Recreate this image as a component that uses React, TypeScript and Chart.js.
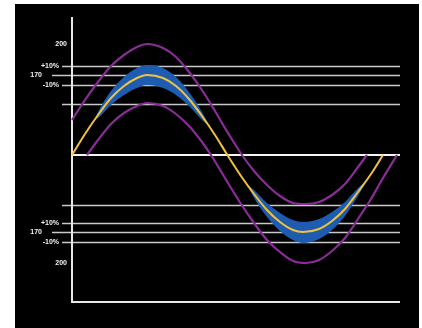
import React, { useEffect, useRef } from "react";
import { Chart, registerables } from "chart.js";

Chart.register(...registerables);

// Centre (yellow) curve: x position along the axis, value above/below the midline
const yellowX = [0, 13, 26, 39, 52, 65, 75, 91, 104, 117, 130, 143, 156, 169, 182, 195, 208, 221, 231, 247, 260, 273, 286, 299, 311];
const yellowY = [0, 21, 40, 57, 69, 77, 80, 77, 69, 56, 39, 20, -1, -21, -39, -55, -67, -75, -77, -74, -66, -54, -37, -19, 0];

// Upper purple curve
const upperX = [0, 13, 26, 39, 52, 65, 75, 91, 104, 117, 130, 143, 156, 170, 182, 195, 208, 221, 234, 247, 260, 273, 286, 295];
const upperY = [35, 55, 73, 89, 100, 108, 111, 107, 98, 83, 65, 44, 22, 0, -16, -30, -41, -48, -49, -47, -40, -29, -12, 0];

// Lower purple curve
const lowerX = [15, 26, 39, 52, 65, 75, 91, 104, 117, 130, 139, 156, 169, 182, 195, 208, 221, 234, 247, 260, 273, 286, 299, 311, 325];
const lowerY = [0, 15, 31, 42, 49, 52, 49, 41, 29, 13, 0, -28, -49, -68, -85, -97, -106, -108, -105, -96, -83, -64, -44, -23, 0];

// Blue tolerance band, upper hump
const bandTopX = [23, 26, 39, 52, 65, 75, 91, 104, 117, 130, 138];
const bandTopHigh = [36, 43, 64, 78, 87, 90, 87, 78, 63, 43, 28];
const bandTopLow = [36, 37, 50, 60, 67, 70, 67, 60, 49, 35, 28];

// Blue tolerance band, lower hump
const bandBotX = [175, 182, 195, 208, 221, 231, 247, 260, 273, 286, 295];
const bandBotHigh = [-29, -35, -48, -58, -65, -67, -64, -57, -47, -33, -25];
const bandBotLow = [-29, -43, -62, -76, -85, -88, -84, -75, -61, -41, -25];

// Horizontal reference lines and their labels
const refValues = [89, 80, 70, 51, -50, -68, -77, -87];
const refLabels = ["+10%", "170", "-10%", "", "", "+10%", "170", "-10%"];
const extraValues = [111, -108];
const extraLabels = ["200", "200"];

const X_MAX = 328;
const Y_MIN = -147;
const Y_MAX = 138;

const pts = (xs: number[], ys: number[]) => xs.map((x, i) => ({ x, y: ys[i] }));

const YELLOW = "#f2c23c";
const PURPLE = "#8a2c98";
const BLUE = "#1d5cb0";

export default function App() {
  const ref = useRef<HTMLCanvasElement | null>(null);

  useEffect(() => {
    if (!ref.current) return;

    const bgPlugin = {
      id: "bg",
      beforeDraw(chart: any) {
        const ctx = chart.ctx;
        ctx.save();
        ctx.fillStyle = "#ffffff";
        ctx.fillRect(0, 0, chart.width, chart.height);
        ctx.fillStyle = "#000000";
        ctx.fillRect(15, 4, 404, chart.height - 4);
        ctx.restore();
      },
    };

    const linesPlugin = {
      id: "reflines",
      beforeDatasetsDraw(chart: any) {
        const ctx = chart.ctx;
        const xs = chart.scales.x;
        const ys = chart.scales.y;
        const left = chart.chartArea.left;
        const right = xs.getPixelForValue(X_MAX);
        ctx.save();
        ctx.font = "bold 7px 'Liberation Sans', Arial, sans-serif";
        ctx.textBaseline = "middle";
        ctx.textAlign = "right";
        refValues.forEach((v, i) => {
          const y = Math.round(ys.getPixelForValue(v)) + 0.5;
          const isMain = refLabels[i] === "170";
          const start = left - (isMain ? 20 : 10);
          ctx.strokeStyle = "#c9c9c9";
          ctx.lineWidth = 1.5;
          ctx.beginPath();
          ctx.moveTo(start, y);
          ctx.lineTo(right, y);
          ctx.stroke();
          if (refLabels[i]) {
            ctx.fillStyle = "#f2f2f2";
            ctx.fillText(refLabels[i], start - (isMain ? 10 : 3), y);
          }
        });
        extraValues.forEach((v, i) => {
          ctx.fillStyle = "#f2f2f2";
          ctx.fillText(extraLabels[i], left - 5, ys.getPixelForValue(v));
        });
        // midline
        const y0 = ys.getPixelForValue(0);
        ctx.strokeStyle = "#f4f4f4";
        ctx.lineWidth = 2;
        ctx.beginPath();
        ctx.moveTo(left, y0);
        ctx.lineTo(right, y0);
        ctx.stroke();
        // axes
        ctx.strokeStyle = "#e8e8e8";
        ctx.lineWidth = 2;
        ctx.beginPath();
        ctx.moveTo(left, chart.chartArea.top);
        ctx.lineTo(left, chart.chartArea.bottom);
        ctx.lineTo(right, chart.chartArea.bottom);
        ctx.stroke();
        ctx.restore();
      },
    };

    const common = {
      pointRadius: 0,
      tension: 0,
      cubicInterpolationMode: "monotone" as const,
      clip: false as any,
    };

    const chart = new Chart(ref.current, {
      type: "line",
      data: {
        datasets: [
          { ...common, order: 3, data: pts(bandTopX, bandTopHigh), borderWidth: 0, borderColor: BLUE, backgroundColor: BLUE, fill: "+1" },
          { ...common, order: 3, data: pts(bandTopX, bandTopLow), borderWidth: 0, borderColor: BLUE, fill: false },
          { ...common, order: 3, data: pts(bandBotX, bandBotHigh), borderWidth: 0, borderColor: BLUE, backgroundColor: BLUE, fill: "+1" },
          { ...common, order: 3, data: pts(bandBotX, bandBotLow), borderWidth: 0, borderColor: BLUE, fill: false },
          { ...common, order: 2, data: pts(upperX, upperY), borderWidth: 2.2, borderColor: PURPLE, fill: false },
          { ...common, order: 2, data: pts(lowerX, lowerY), borderWidth: 2.2, borderColor: PURPLE, fill: false },
          { ...common, order: 1, data: pts(yellowX, yellowY), borderWidth: 2, borderColor: YELLOW, fill: false },
        ],
      },
      options: {
        animation: false,
        responsive: false,
        events: [],
        layout: { padding: { left: 72, right: 22, top: 17, bottom: 26 } },
        plugins: { legend: { display: false }, tooltip: { enabled: false } },
        scales: {
          x: { type: "linear", min: 0, max: X_MAX, display: false },
          y: { type: "linear", min: Y_MIN, max: Y_MAX, display: false },
        },
      },
      plugins: [bgPlugin, linesPlugin],
    });

    return () => chart.destroy();
  }, []);

  return (
    <div style={{ position: "fixed", left: 0, top: 0, width: 422, height: 328 }}>
      <canvas ref={ref} width={422} height={328} style={{ display: "block" }} />
    </div>
  );
}
